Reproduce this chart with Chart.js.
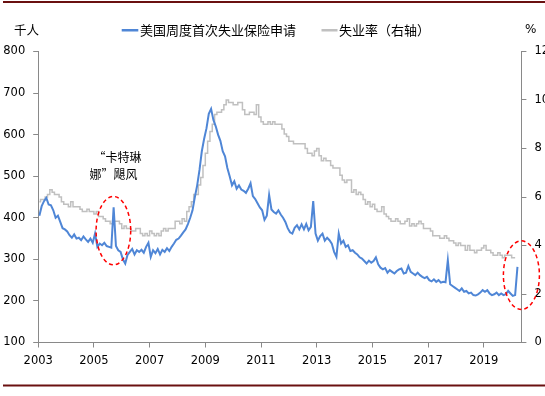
<!DOCTYPE html>
<html>
<head>
<meta charset="utf-8">
<script src="https://cdn.jsdelivr.net/npm/chart.js@4.4.1/dist/chart.umd.min.js"></script>
<style>
  html, body { margin: 0; padding: 0; background: #fff; }
</style>
</head>
<body>
<canvas id="c" width="545" height="396"></canvas>
<script>
// monthly, Jan 2003 - Mar 2020, thousands
var startYear = 2003;
var claims = [
  405,428,440,448,432,430,418,400,405,390,375,372,
  367,358,352,360,350,352,346,355,348,342,350,340,
  362,330,338,334,340,332,330,328,425,332,322,318,
  300,290,311,318,325,312,322,318,323,316,330,340,
  306,322,315,325,312,323,318,327,320,330,338,347,
  350,357,365,372,385,400,418,450,478,515,560,590,
  615,650,662,635,620,600,585,560,548,520,500,478,
  488,470,478,468,465,460,470,483,452,445,435,425,
  418,395,405,455,420,414,410,418,408,400,390,375,
  365,362,376,382,372,384,372,385,370,378,440,362,
  345,356,362,345,352,346,338,318,306,362,338,345,
  330,334,320,322,316,312,305,302,296,290,297,292,
  296,305,288,280,276,279,268,274,270,266,272,276,
  278,266,268,284,270,266,262,268,262,258,255,258,
  250,247,252,246,250,244,246,245,298,240,236,232,
  228,224,230,222,224,218,220,214,213,216,220,226,
  222,226,218,214,216,220,214,218,214,216,224,218,
  212,214,282
];
// monthly unemployment rate %, Jan 2003 - Feb 2020
var unemp = [
  5.8,5.9,5.9,6.0,6.1,6.3,6.2,6.1,6.1,6.0,5.8,5.7,
  5.7,5.6,5.8,5.6,5.6,5.6,5.5,5.4,5.4,5.5,5.4,5.4,
  5.3,5.4,5.2,5.2,5.1,5.0,5.0,4.9,5.0,5.0,5.0,4.9,
  4.7,4.8,4.7,4.7,4.6,4.6,4.7,4.7,4.5,4.4,4.5,4.4,
  4.6,4.5,4.4,4.5,4.4,4.6,4.7,4.6,4.7,4.7,4.7,5.0,
  5.0,4.9,5.1,5.0,5.4,5.6,5.8,6.1,6.1,6.5,6.8,7.3,
  7.8,8.3,8.7,9.0,9.4,9.5,9.5,9.6,9.8,10.0,9.9,9.9,
  9.8,9.8,9.9,9.9,9.6,9.4,9.4,9.5,9.5,9.4,9.8,9.3,
  9.1,9.0,9.0,9.1,9.0,9.1,9.0,9.0,9.0,8.8,8.6,8.5,
  8.3,8.3,8.2,8.2,8.2,8.2,8.2,8.0,7.8,7.8,7.7,7.9,
  8.0,7.7,7.5,7.6,7.5,7.5,7.3,7.2,7.2,7.2,6.9,6.7,
  6.6,6.7,6.7,6.2,6.3,6.1,6.2,6.1,5.9,5.7,5.8,5.6,
  5.7,5.5,5.4,5.4,5.6,5.3,5.2,5.1,5.0,5.0,5.1,5.0,
  4.9,4.9,5.0,5.1,4.8,4.9,4.8,4.9,5.0,4.9,4.7,4.7,
  4.7,4.6,4.4,4.4,4.4,4.3,4.3,4.4,4.3,4.2,4.2,4.1,
  4.0,4.1,4.0,4.0,3.8,4.0,3.8,3.8,3.7,3.8,3.8,3.9,
  4.0,3.8,3.8,3.7,3.6,3.6,3.7,3.6,3.5,3.6,3.6,3.6,
  3.5,3.5
];
var yearTicks = [2003, 2005, 2007, 2009, 2011, 2013, 2015, 2017, 2019];
var seriesNames = ['美国周度首次失业保险申请', '失业率（右轴）'];

function monthX(i) { return startYear + (i + 0.5) / 12; }
var claimsPts = claims.map(function (v, i) { return { x: monthX(i), y: v }; });
var unempPts = unemp.map(function (v, i) { return { x: monthX(i), y: v }; });

var BLUE = '#4f86d6';
var GREY = '#c0c0c0';
var AXIS = '#898989';
var tickFont = { family: 'DejaVu Sans', size: 11.5 };
var cjk = '"Noto Sans CJK SC", sans-serif';

// highlighted spots (data coords) and ellipse radii in px
var marks = [
  { x: 2005.70, y: 369, rx: 17.3, ry: 34.2 },
  { x: 2020.35, y: 262, rx: 18, ry: 34.3 }
];

var decor = {
  id: 'decor',
  afterDraw: function (chart) {
    var ctx = chart.ctx;
    var xs = chart.scales.x, yl = chart.scales.y;
    ctx.save();
    // frame rules
    ctx.fillStyle = '#6a1010';
    ctx.fillRect(3, 1, 542, 2);
    ctx.fillRect(3, 384.5, 542, 2);

    // legend
    ctx.textBaseline = 'middle';
    ctx.font = '13px ' + cjk;
    ctx.fillStyle = BLUE;
    ctx.fillRect(121.7, 29, 16.6, 2.5);
    ctx.fillStyle = GREY;
    ctx.fillRect(321.5, 29, 16, 2.5);
    ctx.fillStyle = '#000';
    ctx.fillText(seriesNames[0], 140, 30);
    ctx.fillText(seriesNames[1], 339, 30);

    // axis units
    ctx.font = '12.5px ' + cjk;
    ctx.fillText('千人', 14, 30);
    ctx.font = '12px "DejaVu Sans"';
    ctx.fillText('%', 525, 30);

    // annotation
    ctx.font = '12px ' + cjk;
    ctx.textAlign = 'center';
    var ax = xs.getPixelForValue(marks[0].x);
    ctx.fillText('“卡特琳', ax + 4, 157);
    ctx.fillText('娜”飓风', ax, 174);

    // dashed ellipses
    ctx.strokeStyle = '#ff0000';
    ctx.lineWidth = 1.5;
    ctx.setLineDash([4, 3]);
    marks.forEach(function (m) {
      ctx.beginPath();
      ctx.ellipse(xs.getPixelForValue(m.x), yl.getPixelForValue(m.y), m.rx, m.ry, 0, 0, Math.PI * 2);
      ctx.stroke();
    });
    ctx.restore();
  }
};

new Chart(document.getElementById('c').getContext('2d'), {
  type: 'line',
  data: {
    datasets: [{
      label: seriesNames[0],
      data: claimsPts,
      borderColor: BLUE,
      backgroundColor: BLUE,
      borderWidth: 2,
      pointRadius: 0,
      tension: 0,
      yAxisID: 'y'
    }, {
      label: seriesNames[1],
      data: unempPts,
      borderColor: GREY,
      backgroundColor: GREY,
      borderWidth: 1.5,
      pointRadius: 0,
      stepped: 'middle',
      yAxisID: 'y2'
    }]
  },
  options: {
    responsive: false,
    animation: false,
    events: [],
    layout: { padding: { top: 51.5, left: 0, right: 0, bottom: 0 } },
    plugins: { legend: { display: false }, tooltip: { enabled: false } },
    scales: {
      x: {
        type: 'linear',
        min: 2003,
        max: 2020.35,
        afterBuildTicks: function (s) { s.ticks = yearTicks.map(function (v) { return { value: v }; }); },
        afterFit: function (s) { s.height = 53.5; },
        grid: { drawOnChartArea: false, tickLength: 5, color: AXIS },
        border: { color: AXIS },
        ticks: {
          font: tickFont, color: '#000', padding: 7, maxRotation: 0, autoSkip: false,
          callback: function (v) { return String(v); }
        }
      },
      y: {
        position: 'left',
        min: 100,
        max: 800,
        afterFit: function (s) { s.width = 38.2; },
        grid: { drawOnChartArea: false, tickLength: 5, color: AXIS },
        border: { color: AXIS },
        ticks: { stepSize: 100, font: tickFont, color: '#000', padding: 8 }
      },
      y2: {
        position: 'right',
        min: 0,
        max: 12,
        afterFit: function (s) { s.width = 23.6; },
        grid: { drawOnChartArea: false, tickLength: 5, color: AXIS },
        border: { color: AXIS },
        ticks: { stepSize: 2, font: tickFont, color: '#000', padding: 8 }
      }
    }
  },
  plugins: [decor]
});
</script>
</body>
</html>
